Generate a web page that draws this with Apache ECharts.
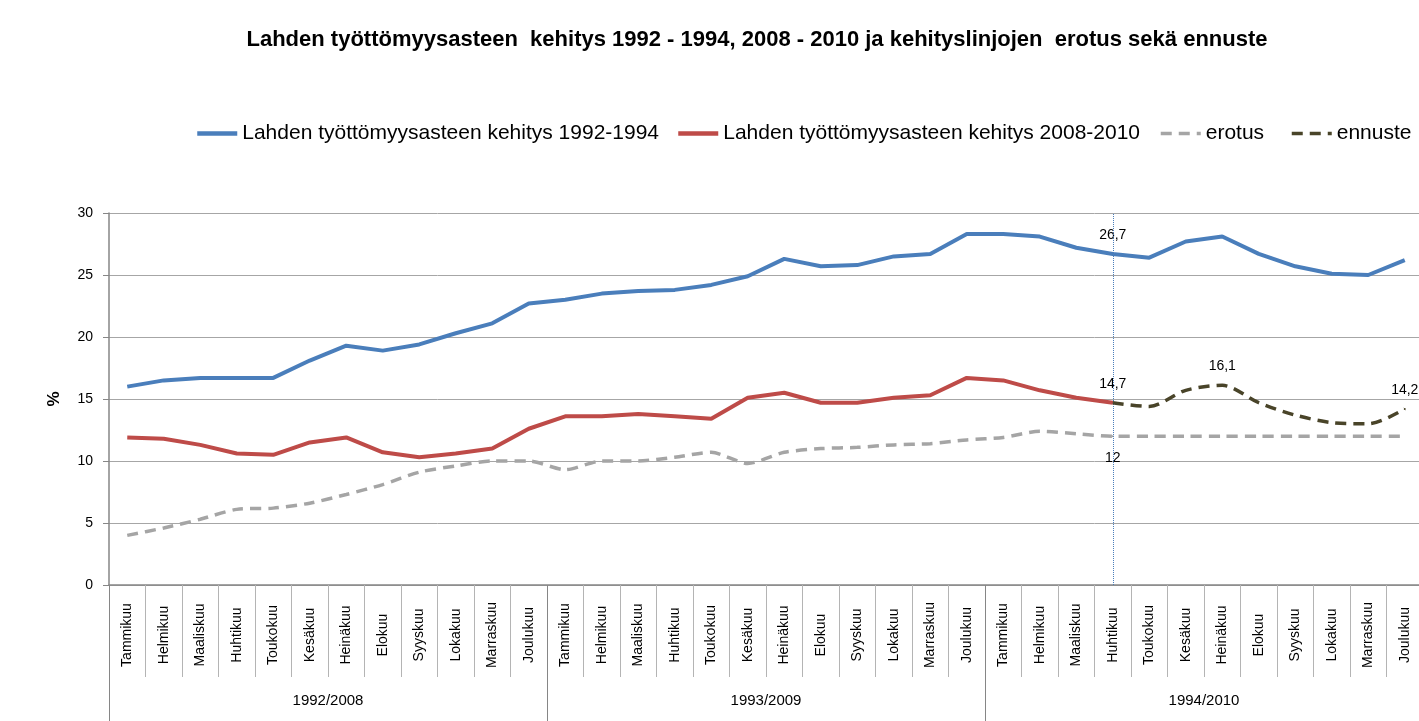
<!DOCTYPE html>
<html>
<head>
<meta charset="utf-8">
<script type="text/javascript" src="https://cdn.jsdelivr.net/npm/echarts@6/dist/echarts.min.js"></script>
<style>
html,body{margin:0;padding:0;background:#fff;overflow:hidden;}
/* kaavio on hieman ikkunaa leveämpi, oikea reuna leikkautuu kuten alkuperäisessä */
#main{width:1423px;height:721px;}
</style>
</head>
<body>
<div id="main"></div>
<script type="text/javascript">
var months = ['Tammikuu','Helmikuu','Maaliskuu','Huhtikuu','Toukokuu','Kesäkuu','Heinäkuu','Elokuu','Syyskuu','Lokakuu','Marraskuu','Joulukuu'];
var years = ['1992/2008','1993/2009','1994/2010'];
var yTicks = [0,5,10,15,20,25,30];

// 1992-1994 (36 kk)
var kehitys9294 = [16.0,16.5,16.7,16.7,16.7,18.1,19.3,18.9,19.4,20.3,21.1,22.7,
                   23.0,23.5,23.7,23.8,24.2,24.9,26.3,25.7,25.8,26.5,26.7,28.3,
                   28.3,28.1,27.2,26.7,26.4,27.7,28.1,26.7,25.7,25.1,25.0,26.2];
// 2008-2010 (toteutunut huhtikuuhun 2010 asti)
var kehitys0810 = [11.9,11.8,11.3,10.6,10.5,11.5,11.9,10.7,10.3,10.6,11.0,12.6,
                   13.6,13.6,13.8,13.6,13.4,15.1,15.5,14.7,14.7,15.1,15.3,16.7,
                   16.5,15.7,15.1,14.7,null,null,null,null,null,null,null,null];
var erotus = [4.0,4.6,5.3,6.1,6.2,6.6,7.3,8.1,9.1,9.6,10.0,10.0,
              9.3,10.0,10.0,10.3,10.7,9.8,10.7,11.0,11.1,11.3,11.4,11.7,
              11.9,12.4,12.2,12.0,12.0,12.0,12.0,12.0,12.0,12.0,12.0,12.0];
var ennuste = [null,null,null,null,null,null,null,null,null,null,null,null,
               null,null,null,null,null,null,null,null,null,null,null,null,
               null,null,null,14.7,14.4,15.7,16.1,14.7,13.7,13.1,13.0,14.2];

// merkityt arvot (indeksit)
var labelsBlue = [27];
var labelsRed = [27];
var labelsErotus = [27];
var labelsEnnuste = [30,35];
var markIndex = 27;

var names = ['Lahden työttömyysasteen kehitys 1992-1994','Lahden työttömyysasteen kehitys 2008-2010','erotus','ennuste'];

var cats = [];
for(var y = 0;y<years.length;y++){
    for(var m = 0;m<months.length;m++){
        cats.push(months[m]);
    }
}

var font = 'Liberation Sans';

function fmt(p){
    return String(p.value).replace('.',',');
}

// arvo + label vain valituille pisteille
function withLabels(data, idx, pos, color){
    return data.map(function(v,i){
        if(idx.indexOf(i) >= 0 && v != null){
            return {
                value:v,
                symbol:'circle',
                symbolSize:2,
                itemStyle:{color:color},
                label:{show:true,position:pos,distance:pos == 'bottom' ? 14 : 11,formatter:fmt,
                    fontSize:14,color:'#000',fontFamily:font}
            };
        }
        return v;
    });
}

var myChart = echarts.init(document.getElementById('main'));

function legendAt(name,left,w){
    return {
        data:[name],
        left:left,
        top:123,
        padding:0,
        itemWidth:40,
        itemHeight:14,
        itemStyle:{opacity:0},
        lineStyle:{width:w},
        textStyle:{fontSize:21,color:'#000',fontFamily:font},
        selectedMode:false
    };
}

var option = {
    backgroundColor:'#fff',
    animation:false,
    title:{
        text:'Lahden työttömyysasteen  kehitys 1992 - 1994, 2008 - 2010 ja kehityslinjojen  erotus sekä ennuste',
        left:757,
        textAlign:'center',
        top:29,
        padding:0,
        textStyle:{fontSize:22,fontWeight:'bold',color:'#000',fontFamily:font}
    },
    legend:[
        legendAt(names[0],195,4.5),
        legendAt(names[1],676,4.5),
        legendAt(names[2],1159,3.5),
        legendAt(names[3],1290,3.5)
    ],
    grid:{
        left:109,
        right:0,
        top:213,
        bottom:136,
        containLabel:false
    },
    xAxis:[
        {
            type:'category',
            data:cats,
            boundaryGap:true,
            axisLine:{show:true,lineStyle:{color:'#868686',width:1.5}},
            axisTick:{show:true,interval:0,length:92,lineStyle:{color:'#b4b4b4',width:1}},
            axisLabel:{
                interval:0,
                rotate:90,
                align:'center',
                verticalAlign:'middle',
                margin:50,
                fontSize:14,
                color:'#000',
                fontFamily:font
            },
            splitLine:{show:false}
        },
        {
            type:'category',
            data:years,
            position:'bottom',
            offset:0,
            boundaryGap:true,
            axisLine:{show:false},
            axisTick:{show:true,interval:0,length:140,lineStyle:{color:'#868686',width:1}},
            axisLabel:{margin:108,fontSize:15,color:'#000',fontFamily:font},
            splitLine:{show:false}
        }
    ],
    yAxis:{
        type:'value',
        min:yTicks[0],
        max:yTicks[yTicks.length-1],
        interval:5,
        name:'%',
        nameLocation:'middle',
        nameGap:46,
        nameRotate:90,
        nameTextStyle:{fontSize:17,fontWeight:'bold',color:'#000',fontFamily:font},
        axisLine:{show:true,lineStyle:{color:'#868686',width:1.5}},
        axisTick:{show:true,length:6,lineStyle:{color:'#868686'}},
        axisLabel:{margin:16,fontSize:14,color:'#000',fontFamily:font},
        splitLine:{lineStyle:{color:'#a6a6a6',width:1}}
    },
    series:[
        {
            name:names[0],
            type:'line',
            data:withLabels(kehitys9294,labelsBlue,'top','#4a7ebb'),
            symbol:'none',
            lineStyle:{color:'#4a7ebb',width:4},
            itemStyle:{color:'#4a7ebb'},
            z:4,
            markLine:{
                silent:true,
                symbol:'none',
                label:{show:false},
                lineStyle:{color:'#4a7ebb',type:'dotted',width:1},
                data:[{xAxis:markIndex}]
            }
        },
        {
            name:names[1],
            type:'line',
            data:withLabels(kehitys0810,labelsRed,'top','#be4b48'),
            symbol:'none',
            lineStyle:{color:'#be4b48',width:4},
            itemStyle:{color:'#be4b48'},
            z:4
        },
        {
            name:names[2],
            type:'line',
            data:withLabels(erotus,labelsErotus,'bottom','#a5a5a5'),
            symbol:'none',
            smooth:0.25,
            lineStyle:{color:'#a5a5a5',width:3.5,type:[11,7]},
            itemStyle:{color:'#a5a5a5'},
            z:3
        },
        {
            name:names[3],
            type:'line',
            data:withLabels(ennuste,labelsEnnuste,'top','#494429'),
            symbol:'none',
            smooth:0.3,
            lineStyle:{color:'#494429',width:3.5,type:[11,7]},
            itemStyle:{color:'#494429'},
            z:5
        }
    ]
};
myChart.setOption(option);
</script>
</body>
</html>
